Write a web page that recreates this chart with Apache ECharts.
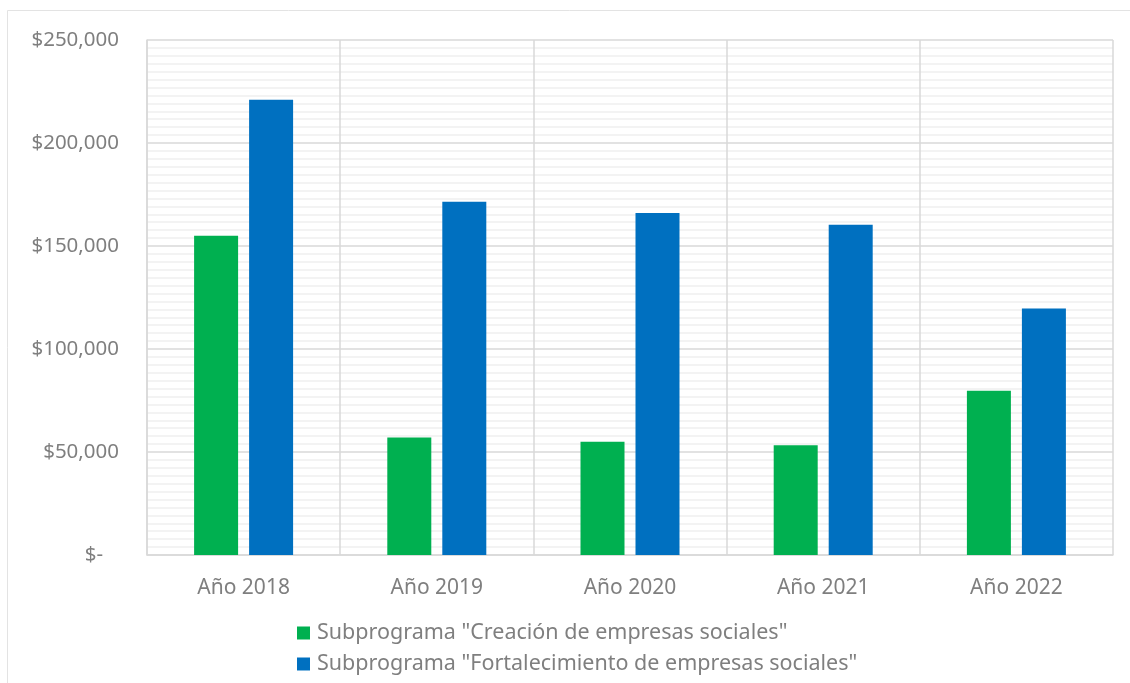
<!DOCTYPE html>
<html>
<head>
<meta charset="utf-8">
<script src="https://cdn.jsdelivr.net/npm/echarts@6/dist/echarts.min.js"></script>
<style>
  html, body { margin: 0; padding: 0; background: #fff; }
  #chart { width: 1130px; height: 683px; }
</style>
</head>
<body>
<div id="chart"></div>
<script>
const years = ['Año 2018', 'Año 2019', 'Año 2020', 'Año 2021', 'Año 2022'];
const creacion = [155000, 57000, 55000, 53300, 79700];
const fortalecimiento = [221000, 171500, 166000, 160300, 119600];
const seriesNames = [
  'Subprograma "Creación de empresas sociales"',
  'Subprograma "Fortalecimiento de empresas sociales"'
];

const textColor = '#7f7f7f';
const gridColor = '#d9d9d9';
const fontFamily = '"Noto Sans", sans-serif';

function money(value) {
  if (value === 0) return '$-   ';
  return '$' + value.toLocaleString('en-US');
}

const chart = echarts.init(document.getElementById('chart'));

chart.setOption({
  animation: false,
  textStyle: { fontFamily: fontFamily },
  graphic: [
    {
      type: 'rect',
      shape: { x: 7.5, y: 10.5, width: 1200, height: 700 },
      style: { fill: 'none', stroke: '#e3e3e3', lineWidth: 1 },
      silent: true
    }
  ],
  grid: { left: 147, right: 17, top: 40, bottom: 128, containLabel: false },
  legend: {
    orient: 'vertical',
    left: 297,
    top: 622,
    padding: 0,
    itemWidth: 13,
    itemHeight: 13,
    itemGap: 9,
    icon: 'rect',
    data: seriesNames,
    textStyle: {
      color: textColor,
      fontSize: 21.5,
      lineHeight: 22,
      fontFamily: fontFamily,
      padding: [0, 0, 0, 2]
    }
  },
  xAxis: {
    type: 'category',
    data: years,
    axisTick: { show: false },
    axisLine: { show: true, lineStyle: { color: gridColor, width: 1.5 } },
    axisLabel: { color: textColor, fontSize: 21, margin: 23 },
    splitLine: { show: true, lineStyle: { color: gridColor, width: 1.5 } }
  },
  yAxis: {
    type: 'value',
    min: 0,
    max: 250000,
    interval: 50000,
    axisLine: { show: true, lineStyle: { color: gridColor, width: 1.5 } },
    axisTick: { show: false },
    axisLabel: { color: textColor, fontSize: 20.5, margin: 28, formatter: money },
    splitLine: { show: true, lineStyle: { color: gridColor, width: 1.5 } },
    minorTick: { show: false, splitNumber: 13 },
    minorSplitLine: { show: true, lineStyle: { color: '#efefef', width: 1.5 } }
  },
  series: [
    {
      name: seriesNames[0],
      type: 'bar',
      data: creacion,
      barWidth: 44,
      barGap: '25%',
      itemStyle: { color: '#00b050' }
    },
    {
      name: seriesNames[1],
      type: 'bar',
      data: fortalecimiento,
      barWidth: 44,
      barGap: '25%',
      itemStyle: { color: '#0070c0' }
    }
  ]
});
</script>
</body>
</html>
